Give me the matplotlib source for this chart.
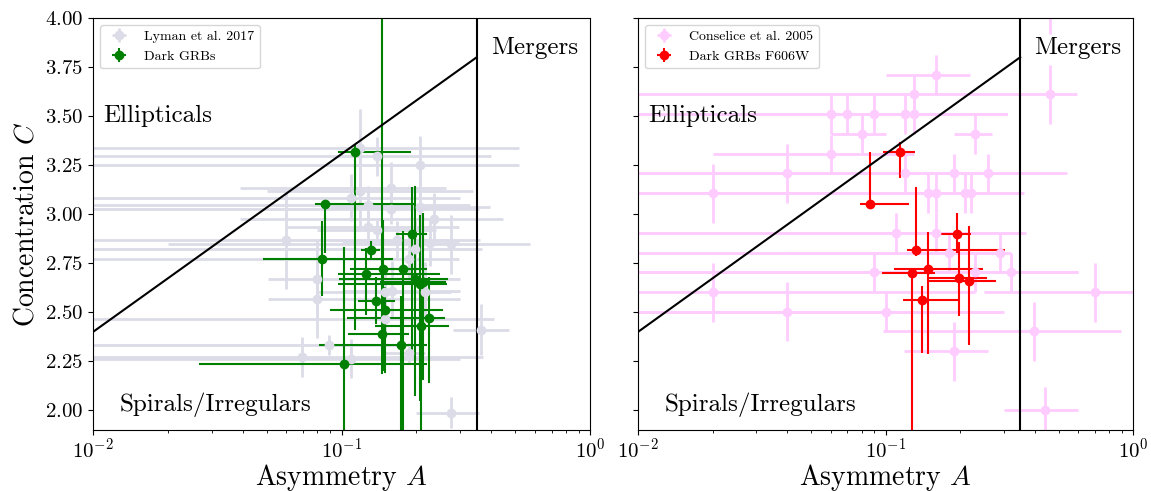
import numpy as np
import matplotlib
matplotlib.use('Agg')
import matplotlib.pyplot as plt

plt.rcParams['font.family'] = 'serif'
plt.rcParams['font.serif'] = ['cmr10', 'DejaVu Serif']
plt.rcParams['mathtext.fontset'] = 'cm'
plt.rcParams['axes.formatter.use_mathtext'] = True
plt.rcParams['axes.unicode_minus'] = False

# --- data ---
# Lyman et al. 2017 (A, C, errors)
ly_A = [0.119, 0.139, 0.207, 0.119, 0.109, 0.158, 0.128, 0.158, 0.207, 0.236,
        0.128, 0.139, 0.0596, 0.167, 0.198, 0.227, 0.276, 0.1875, 0.0794, 0.0794,
        0.149, 0.159, 0.217, 0.149, 0.363, 0.0893, 0.0696, 0.109, 0.1875, 0.276]
ly_C = [3.335, 3.296, 3.25, 3.119, 3.085, 3.136, 3.046, 3.029, 3.037, 2.978,
        2.935, 2.918, 2.867, 2.867, 2.825, 2.854, 2.847, 2.774, 2.672, 2.57,
        2.604, 2.609, 2.604, 2.468, 2.412, 2.332, 2.272, 2.264, 2.294, 1.988]
ly_Alo = [0.118, 0.138, 0.205, 0.069, 0.108, 0.119, 0.127, 0.157, 0.117, 0.197,
          0.068, 0.059, 0.059, 0.087, 0.197, 0.127, 0.256, 0.186, 0.029, 0.029,
          0.069, 0.059, 0.067, 0.148, 0.083, 0.088, 0.069, 0.108, 0.0375, 0.076]
ly_Ahi = [0.40, 0.26, 0.31, 0.22, 0.19, 0.105, 0.20, 0.20, 0.19, 0.21,
          0.17, 0.10, 0.30, 0.13, 0.17, 0.07, 0.30, 0.11, 0.22, 0.22,
          0.10, 0.14, 0.06, 0.26, 0.11, 0.11, 0.30, 0.19, 0.03, 0.08]
ly_Cerr = [0.2, 0.1, 0.15, 0.2, 0.12, 0.13, 0.1, 0.08, 0.3, 0.13,
           0.08, 0.05, 0.25, 0.1, 0.15, 0.12, 0.15, 0.12, 0.2, 0.2,
           0.1, 0.15, 0.15, 0.1, 0.13, 0.05, 0.1, 0.1, 0.05, 0.08]

# Dark GRBs (left panel)
gr_A = [0.113, 0.0859, 0.0832, 0.132, 0.193, 0.126, 0.147, 0.176, 0.198,
        0.207, 0.213, 0.138, 0.150, 0.226, 0.209, 0.146, 0.173, 0.1026]
gr_C = [3.318, 3.051, 2.774, 2.820, 2.901, 2.697, 2.723, 2.723, 2.672,
        2.646, 2.655, 2.558, 2.510, 2.471, 2.429, 2.388, 2.335, 2.235]
gr_Alo = [0.016, 0.008, 0.035, 0.012, 0.028, 0.029, 0.039, 0.033, 0.10,
          0.11, 0.07, 0.022, 0.06, 0.121, 0.073, 0.04, 0.092, 0.076]
gr_Ahi = [0.077, 0.114, 0.078, 0.011, 0.027, 0.124, 0.063, 0.044, 0.07,
          0.06, 0.05, 0.026, 0.105, 0.034, 0.061, 0.041, 0.047, 0.118]
gr_Clo = [0.91, 0.25, 0.19, 0.045, 0.6, 0.21, 0.52, 0.85, 0.6,
          0.6, 0.5, 0.12, 0.32, 0.33, 0.55, 0.2, 0.5, 0.45]
gr_Chi = [0.04, 0.0, 0.19, 0.045, 0.24, 0.13, 0.25, 0.19, 0.47,
          0.35, 0.35, 0.12, 0.12, 0.21, 0.17, 1.81, 0.25, 0.6]

# Conselice et al. 2005
co_A = [0.160, 0.130, 0.461, 0.060, 0.070, 0.090, 0.1197, 0.130, 0.080, 0.2296,
        0.060, 0.1197, 0.040, 0.189, 0.260, 0.020, 0.149, 0.160, 0.209, 0.221,
        0.110, 0.160, 0.181, 0.290, 0.090, 0.2296, 0.3206, 0.020, 0.701, 0.040,
        0.100, 0.398, 0.189, 0.440, 0.460]
co_C = [3.709, 3.611, 3.611, 3.509, 3.509, 3.509, 3.509, 3.509, 3.408, 3.408,
        3.306, 3.208, 3.208, 3.208, 3.208, 3.106, 3.106, 3.106, 3.106, 3.106,
        2.905, 2.905, 2.803, 2.803, 2.704, 2.704, 2.704, 2.602, 2.602, 2.502,
        2.502, 2.403, 2.301, 2.000, 4.020]
co_Alo = [0.06, 0.129, 0.11, 0.059, 0.069, 0.089, 0.119, 0.129, 0.02, 0.04,
          0.04, 0.119, 0.02, 0.188, 0.259, 0.019, 0.148, 0.159, 0.208, 0.22,
          0.109, 0.159, 0.141, 0.289, 0.089, 0.229, 0.32, 0.019, 0.45, 0.039,
          0.099, 0.30, 0.070, 0.14, 0.1]
co_Ahi = [0.06, 0.22, 0.13, 0.25, 0.24, 0.22, 0.19, 0.18, 0.02, 0.04,
          0.07, 0.42, 0.12, 0.23, 0.16, 0.12, 0.21, 0.20, 0.15, 0.14,
          0.26, 0.20, 0.12, 0.03, 0.48, 0.37, 0.28, 0.21, 0.3, 0.25,
          0.20, 0.50, 0.07, 0.16, 0.15]
co_Cerr = [0.1, 0.1, 0.15, 0.1, 0.1, 0.1, 0.1, 0.1, 0.1, 0.1,
           0.1, 0.1, 0.15, 0.1, 0.1, 0.15, 0.1, 0.1, 0.1, 0.1,
           0.1, 0.1, 0.1, 0.1, 0.1, 0.1, 0.1, 0.15, 0.15, 0.15,
           0.1, 0.15, 0.15, 0.12, 0.1]

# Dark GRBs F606W (right panel)
rd_A = [0.1145, 0.0865, 0.1946, 0.1325, 0.1486, 0.128, 0.198, 0.217, 0.140]
rd_C = [3.316, 3.051, 2.901, 2.820, 2.723, 2.700, 2.677, 2.660, 2.561]
rd_Alo = [0.0165, 0.0075, 0.027, 0.0105, 0.040, 0.031, 0.048, 0.067, 0.022]
rd_Ahi = [0.0165, 0.0375, 0.027, 0.17, 0.10, 0.03, 0.058, 0.063, 0.058]
rd_Clo = [0.13, 0.0, 0.10, 0.034, 0.434, 0.9, 0.197, 0.328, 0.269]
rd_Chi = [0.053, 0.266, 0.106, 0.32, 0.187, 0.0, 0.182, 0.279, 0.075]

# classification boundaries
diag_A = [0.01, 0.35]
diag_C = [2.4, 3.8]
merger_A = 0.35

fig = plt.figure(figsize=(11.51, 4.91), dpi=100)
ax1 = fig.add_axes([0.0808, 0.1242, 0.4318, 0.8391])
ax2 = fig.add_axes([0.5543, 0.1242, 0.4301, 0.8391], sharey=ax1)

ax1.errorbar(ly_A, ly_C, xerr=[ly_Alo, ly_Ahi], yerr=ly_Cerr, fmt='o',
             color='#dcdce8', ms=6, elinewidth=2, label='Lyman et al. 2017')
ax1.errorbar(gr_A, gr_C, xerr=[gr_Alo, gr_Ahi], yerr=[gr_Clo, gr_Chi], fmt='o',
             color='green', ms=6, elinewidth=1.5, label='Dark GRBs')

ax2.errorbar(co_A, co_C, xerr=[co_Alo, co_Ahi], yerr=co_Cerr, fmt='o',
             color='#ffccff', ms=6, elinewidth=2, label='Conselice et al. 2005')
ax2.errorbar(rd_A, rd_C, xerr=[rd_Alo, rd_Ahi], yerr=[rd_Clo, rd_Chi], fmt='o',
             color='red', ms=6, elinewidth=1.5, label='Dark GRBs F606W')

for ax in (ax1, ax2):
    ax.plot(diag_A, diag_C, color='black', lw=1.5)
    ax.axvline(merger_A, color='black', lw=1.5)
    ax.set_xscale('log')
    ax.set_xlim(0.01, 1)
    ax.set_ylim(1.9, 4.0)
    ax.set_xlabel('Asymmetry $A$', fontsize=20, labelpad=0)
    ax.text(0.011, 3.5, 'Ellipticals', fontsize=18, va='center')
    ax.text(0.40, 3.85, 'Mergers', fontsize=18, va='center')
    ax.text(0.0128, 2.03, 'Spirals/Irregulars', fontsize=18, va='center')
    ax.tick_params(labelsize=15)
    ax.tick_params(axis='x', pad=2)
    ax.legend(loc='upper left', fontsize=10)

ax1.set_yticks(np.arange(2.0, 4.01, 0.25))
ax1.set_ylabel('Concentration $C$', fontsize=20)
plt.setp(ax2.get_yticklabels(), visible=False)

fig.savefig('out.png', dpi=100)
